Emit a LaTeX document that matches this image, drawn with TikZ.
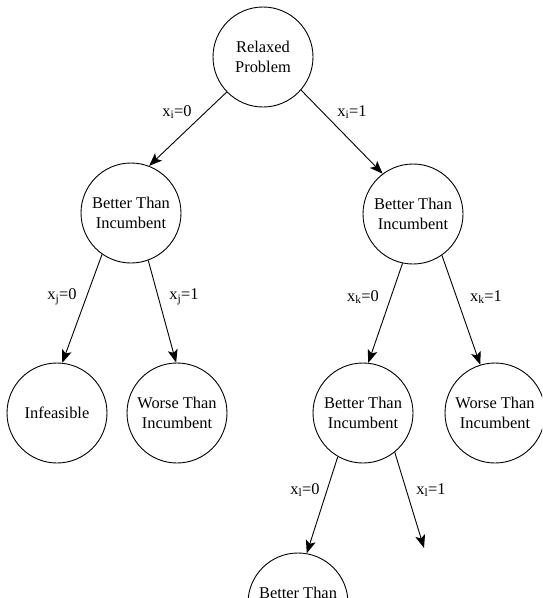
\documentclass[tikz,border=0pt]{standalone}
\usepackage{fontspec}
\setmainfont{Liberation Serif}
\usetikzlibrary{arrows.meta}

\begin{document}
\begin{tikzpicture}[x=1pt,y=-1pt,
    state/.style={circle,draw,line width=0.9pt,minimum size=100pt,inner sep=0pt,
      align=center,font=\fontsize{16.4}{20.5}\selectfont},
    arr/.style={draw,line width=0.9pt,-{Stealth[length=13pt,width=10pt,inset=3pt]}},
    lbl/.style={font=\fontsize{16.4}{20}\selectfont,inner sep=0pt}]

        \useasboundingbox (0,0) rectangle (542,598);
        \clip (0,0) rectangle (542,598);

        \node[state] (root) at (263,57)  {Relaxed\\Problem};
        \node[state] (lm)   at (131,213) {Better Than\\Incumbent};
        \node[state] (rm)   at (413,214) {Better Than\\Incumbent};
        \node[state] (inf)  at (57,413)  {Infeasible};
        \node[state] (wl)   at (177,413) {Worse Than\\Incumbent};
        \node[state] (lb)   at (363,413) {Better Than\\Incumbent};
        \node[state] (wr)   at (495,413) {Worse Than\\Incumbent};
        \node[state] (bb)   at (298,603) {Better Than\\Incumbent};
        \coordinate (open) at (424,548);

        \path[arr] (root.224) -- (lm.69);
        \path[arr] (root.319) -- (rm.127);
        \path[arr] (lm.235)   -- (inf.84);
        \path[arr] (lm.290)   -- (wl.91);
        \path[arr] (rm.258)   -- (lb.84);
        \path[arr] (rm.305)   -- (wr.107);
        \path[arr] (lb.240)   -- (bb.80);
        \path[arr] (lb.309)   -- (open);

        \begin{scope}[every node/.style={lbl}]
          \node (li0) at (177,112) {x\textsubscript{i}=0};
          \node (li1) at (352,112) {x\textsubscript{i}=1};
          \node (lj0) at (62,297)  {x\textsubscript{j}=0};
          \node (lj1) at (184,297) {x\textsubscript{j}=1};
          \node (lk0) at (363,297) {x\textsubscript{k}=0};
          \node (lk1) at (486,297) {x\textsubscript{k}=1};
          \node (ll0) at (305,490) {x\textsubscript{l}=0};
          \node (ll1) at (431,490) {x\textsubscript{l}=1};
        \end{scope}

      \end{tikzpicture}
\end{document}
